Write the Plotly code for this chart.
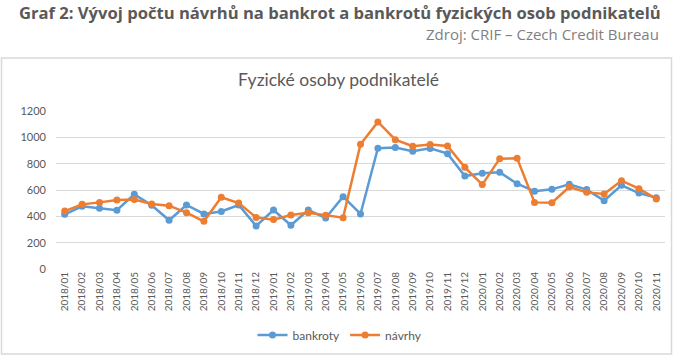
import plotly.graph_objects as go

months = ["2018/01","2018/02","2018/03","2018/04","2018/05","2018/06","2018/07","2018/08","2018/09","2018/10","2018/11","2018/12",
          "2019/01","2019/02","2019/03","2019/04","2019/05","2019/06","2019/07","2019/08","2019/09","2019/10","2019/11","2019/12",
          "2020/01","2020/02","2020/03","2020/04","2020/05","2020/06","2020/07","2020/08","2020/09","2020/10","2020/11"]

bankroty = [415, 476, 461, 446, 567, 484, 370, 486, 418, 437, 486, 327,
            448, 332, 448, 387, 549, 418, 917, 922, 894, 916, 876, 706,
            727, 734, 648, 590, 605, 643, 603, 519, 636, 577, 542]

navrhy = [440, 491, 506, 524, 527, 494, 481, 428, 362, 545, 501, 392,
          375, 410, 428, 408, 390, 947, 1117, 982, 932, 945, 934, 772,
          641, 838, 841, 506, 504, 623, 582, 570, 671, 610, 532]

y_ticks = [0, 200, 400, 600, 800, 1000, 1200]

fig = go.Figure()
fig.add_trace(go.Scatter(x=months, y=bankroty, name="bankroty", mode="lines+markers",
                         line=dict(color="#5B9BD5", width=2.5),
                         marker=dict(color="#5B9BD5", size=7)))
fig.add_trace(go.Scatter(x=months, y=navrhy, name="návrhy", mode="lines+markers",
                         line=dict(color="#ED7D31", width=2.5),
                         marker=dict(color="#ED7D31", size=7)))

W, H = 674, 362
L, R, T, B = 56, 9, 111, 93
PW, PH = W - L - R, H - T - B

def px(x):
    return (x - L) / PW

def py(y):
    return (H - B - y) / PH

fig.update_layout(
    width=W, height=H,
    margin=dict(l=L, r=R, t=T, b=B, autoexpand=False),
    paper_bgcolor="white", plot_bgcolor="white",
    showlegend=True,
    legend=dict(orientation="h", x=px(340), xanchor="center", y=py(335), yanchor="middle",
                font=dict(family="Lato, Liberation Sans, sans-serif", size=12, color="#595959"),
                bgcolor="rgba(0,0,0,0)"),
    xaxis=dict(type="category", tickangle=-90, showgrid=False, showline=False, zeroline=False,
               tickfont=dict(family="Lato, Liberation Sans, sans-serif", size=10, color="#595959"),
               ticks="", range=[-0.5, len(months) - 0.5], automargin=False),
    yaxis=dict(range=[0, 1200], tickvals=y_ticks, showgrid=True, gridcolor="#D9D9D9", gridwidth=1,
               zeroline=False, showline=False, ticks="", ticklabelstandoff=9, automargin=False,
               tickfont=dict(family="Lato, Liberation Sans, sans-serif", size=11, color="#595959")),
    annotations=[
        dict(text="<b>Graf 2: Vývoj počtu návrhů na bankrot a bankrotů fyzických osob podnikatelů</b>",
             xref="paper", yref="paper", x=px(663), xanchor="right",
             y=py(12), yanchor="middle", showarrow=False,
             font=dict(family="Open Sans, sans-serif", size=16.6, color="#595959")),
        dict(text="Zdroj: CRIF – Czech Credit Bureau",
             xref="paper", yref="paper", x=px(661), xanchor="right",
             y=py(34), yanchor="middle", showarrow=False,
             font=dict(family="Open Sans, sans-serif", size=15, color="#7F7F7F")),
        dict(text="Fyzické osoby podnikatelé",
             xref="paper", yref="paper", x=px(338), xanchor="center",
             y=py(79), yanchor="middle", showarrow=False,
             font=dict(family="Lato, Liberation Sans, sans-serif", size=17.5, color="#595959")),
    ],
    shapes=[
        dict(type="rect", xref="paper", yref="paper",
             x0=px(1.5), x1=px(671.5), y0=py(354), y1=py(58),
             line=dict(color="#D9D9D9", width=1.5), fillcolor="rgba(0,0,0,0)", layer="below"),
    ],
)

fig.write_html("out.html", config={"displayModeBar": False},
               post_script="document.body.style.margin='0';document.body.style.overflow='hidden';")
